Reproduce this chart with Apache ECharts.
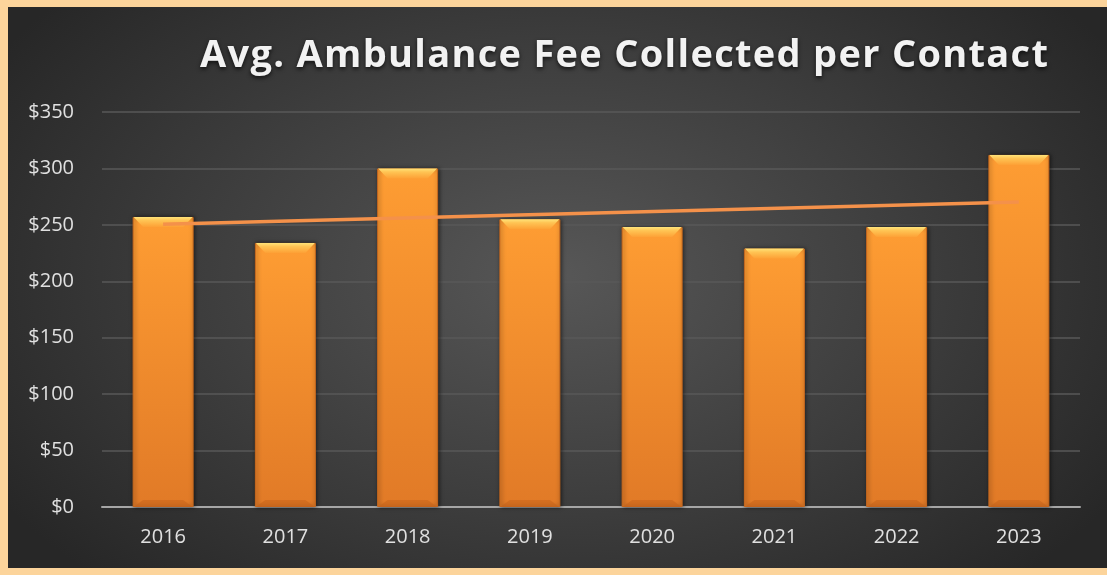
<!DOCTYPE html>
<html>
<head>
<meta charset="utf-8">
<title>Avg. Ambulance Fee Collected per Contact</title>
<script src="https://cdn.jsdelivr.net/npm/echarts@6/dist/echarts.min.js"></script>
<style>
  html, body { margin: 0; padding: 0; }
  body { width: 1107px; height: 575px; background: #fcd49b; position: relative; overflow: hidden; }
  #chart {
    position: absolute; left: 8px; top: 7px; width: 1099px; height: 561px;
    background: radial-gradient(ellipse 60% 75% at 50% 48%, #575757 0%, #3d3d3d 55%, #272727 100%);
  }
  #title {
    position: absolute; left: 200px; top: 33px; margin: 0;
    font-family: 'Open Sans', sans-serif; font-weight: bold; font-size: 38px;
    line-height: 38px; letter-spacing: 1.3px; white-space: nowrap;
    color: #f2f2f2; text-shadow: 0 2px 4px rgba(0,0,0,0.7);
  }
</style>
</head>
<body>
<div id="chart"></div>
<h1 id="title">Avg. Ambulance Fee Collected per Contact</h1>
<script>
// data
var years = ['2016', '2017', '2018', '2019', '2020', '2021', '2022', '2023']
var feePerContact = [257, 234, 300, 255, 248, 229, 248, 312]
// linear trendline end points (first and last year)
var trendStart = 250.6
var trendEnd = 270.2
var yTicks = [0, 50, 100, 150, 200, 250, 300, 350]

var trend = years.map(function (y, i) {
  if (i === 0) return trendStart
  if (i === years.length - 1) return trendEnd
  return null
})

var chart = echarts.init(document.getElementById('chart'), null, { renderer: 'canvas' })

var barWidth = 61

chart.setOption({
  animation: false,
  grid: {
    left: 94,
    right: 27,
    top: 105,
    bottom: 61
  },
  xAxis: {
    type: 'category',
    data: years,
    axisTick: { show: false },
    axisLine: { lineStyle: { color: '#a6a6a6', width: 2 } },
    axisLabel: {
      color: '#e0e0e0',
      fontFamily: 'Open Sans',
      fontSize: 20,
      margin: 20
    }
  },
  yAxis: {
    type: 'value',
    min: yTicks[0],
    max: yTicks[yTicks.length - 1],
    interval: 50,
    axisLine: { show: false },
    axisTick: { show: false },
    splitLine: { lineStyle: { color: '#595959', width: 1.5 } },
    axisLabel: {
      color: '#e0e0e0',
      fontFamily: 'Open Sans',
      fontSize: 20,
      margin: 28,
      formatter: function (v) { return '$' + v }
    }
  },
  series: [
    {
      name: 'Avg. Fee',
      type: 'bar',
      data: feePerContact,
      barWidth: barWidth,
      itemStyle: {
        color: new echarts.graphic.LinearGradient(0, 0, 0, 1, [
          { offset: 0, color: '#fe9d33' },
          { offset: 1, color: '#e17a27' }
        ]),
        borderColor: '#c8691f',
        borderWidth: 1,
        shadowColor: 'rgba(0,0,0,0.55)',
        shadowBlur: 4,
        shadowOffsetX: 1
      },
      z: 2
    },
    {
      name: 'cap',
      type: 'pictorialBar',
      data: feePerContact,
      symbol: 'path://M0,0 L100,0 L84,16 L16,16 Z',
      symbolSize: [barWidth - 2, 10],
      symbolPosition: 'end',
      symbolOffset: [0, 0],
      itemStyle: {
        color: new echarts.graphic.LinearGradient(0, 0, 0, 1, [
          { offset: 0, color: '#ffe47a' },
          { offset: 0.35, color: '#ffc454' },
          { offset: 1, color: '#fda136' }
        ])
      },
      silent: true,
      z: 3
    },
    {
      name: 'base',
      type: 'pictorialBar',
      data: feePerContact,
      symbol: 'path://M16,0 L84,0 L100,16 L0,16 Z',
      symbolSize: [barWidth - 2, 7],
      symbolPosition: 'start',
      itemStyle: { color: 'rgba(196,96,24,0.45)' },
      silent: true,
      z: 3
    },
    {
      name: 'Linear (Avg. Fee)',
      type: 'line',
      data: trend,
      connectNulls: true,
      symbol: 'none',
      lineStyle: { color: '#f4914a', width: 3.5 },
      z: 5
    }
  ]
})
</script>
</body>
</html>
